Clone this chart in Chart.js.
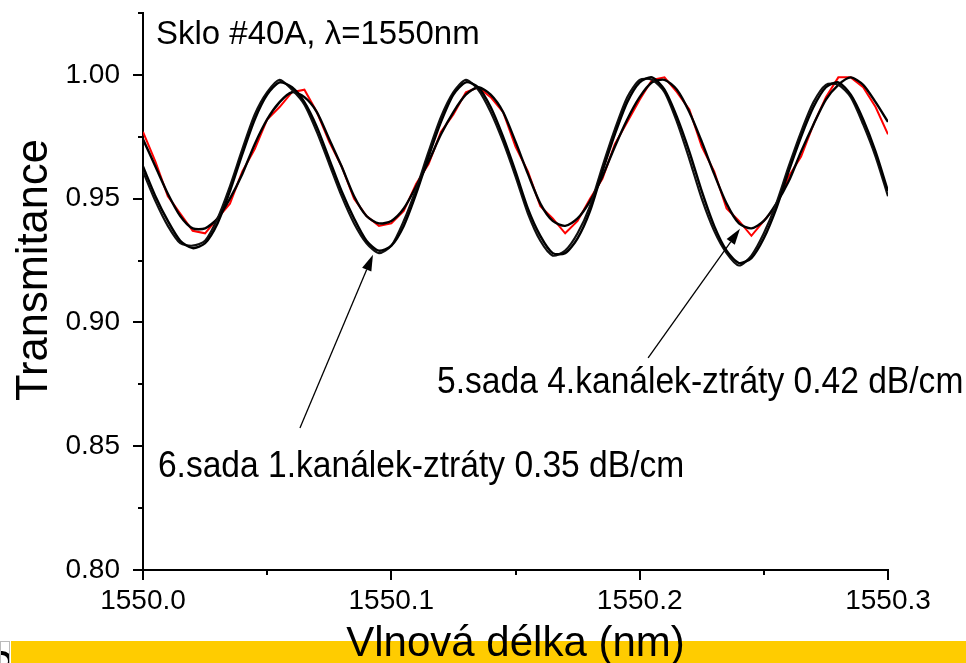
<!DOCTYPE html>
<html>
<head>
<meta charset="utf-8">
<script src="https://cdn.jsdelivr.net/npm/chart.js@4/dist/chart.umd.min.js"></script>
<style>
    html, body { margin: 0; padding: 0; background: #fff; }
    #wrap { position: relative; width: 966px; height: 663px; overflow: hidden; }
    #band { position: absolute; left: 11px; top: 641px; width: 955px; height: 22px; background: #ffcc00; }
    #corner { position: absolute; left: 0; top: 641px; width: 10px; height: 22px; border: 1px solid #bbb; border-bottom: none; box-sizing: border-box; background: #fff; overflow: hidden; }
    #corner div { position: absolute; left: -9px; top: 9px; width: 20px; height: 20px; border: 4px solid #000; border-radius: 50%; box-sizing: border-box; }
    canvas { position: absolute; left: 0; top: 0; }
</style>
</head>
<body>
<div id="wrap">
    <div id="band"></div>
    <div id="corner"><div></div></div>
    <canvas id="chart" width="966" height="663"></canvas>
</div>
<script>
// vlnová délka (nm)
const WAVELENGTH = [
    1550.000, 1550.005, 1550.010, 1550.015, 1550.020, 1550.025, 1550.030, 1550.035, 1550.040, 1550.045,
    1550.050, 1550.055, 1550.060, 1550.065, 1550.070, 1550.075, 1550.080, 1550.085, 1550.090, 1550.095,
    1550.100, 1550.105, 1550.110, 1550.115, 1550.120, 1550.125, 1550.130, 1550.135, 1550.140, 1550.145,
    1550.150, 1550.155, 1550.160, 1550.165, 1550.170, 1550.175, 1550.180, 1550.185, 1550.190, 1550.195,
    1550.200, 1550.205, 1550.210, 1550.215, 1550.220, 1550.225, 1550.230, 1550.235, 1550.240, 1550.245,
    1550.250, 1550.255, 1550.260, 1550.265, 1550.270, 1550.275, 1550.280, 1550.285, 1550.290, 1550.295,
    1550.300
];

// 6.sada 1.kanálek (dvě měření, černě)
const SADA6_A = [
    0.963, 0.951, 0.941, 0.933, 0.930, 0.932, 0.940, 0.953, 0.968, 0.982,
    0.992, 0.997, 0.995, 0.989, 0.979, 0.966, 0.953, 0.942, 0.933, 0.929,
    0.931, 0.939, 0.952, 0.967, 0.981, 0.992, 0.997, 0.995, 0.987, 0.975,
    0.961, 0.946, 0.935, 0.928, 0.928, 0.934, 0.945, 0.961, 0.976, 0.989,
    0.997, 0.999, 0.994, 0.983, 0.969, 0.953, 0.939, 0.929, 0.924, 0.926,
    0.934, 0.946, 0.961, 0.975, 0.987, 0.995, 0.997, 0.992, 0.982, 0.969,
    0.953
];
const SADA6_B = [
    0.961, 0.949, 0.939, 0.932, 0.931, 0.933, 0.942, 0.955, 0.970, 0.984,
    0.993, 0.998, 0.994, 0.988, 0.977, 0.964, 0.951, 0.940, 0.932, 0.928,
    0.931, 0.941, 0.954, 0.969, 0.983, 0.993, 0.998, 0.994, 0.985, 0.973,
    0.959, 0.944, 0.933, 0.927, 0.929, 0.936, 0.947, 0.963, 0.978, 0.991,
    0.998, 0.998, 0.993, 0.981, 0.966, 0.950, 0.937, 0.928, 0.923, 0.927,
    0.936, 0.948, 0.963, 0.977, 0.989, 0.996, 0.996, 0.991, 0.980, 0.967,
    0.951
];

// 5.sada 4.kanálek (černě hladká, červeně měření)
const SADA5_BLACK = [
    0.974, 0.963, 0.952, 0.943, 0.938, 0.938, 0.942, 0.950, 0.960, 0.972,
    0.982, 0.989, 0.993, 0.991, 0.985, 0.974, 0.963, 0.951, 0.943, 0.940,
    0.941, 0.946, 0.955, 0.965, 0.976, 0.985, 0.992, 0.995, 0.992, 0.985,
    0.973, 0.960, 0.948, 0.941, 0.939, 0.942, 0.949, 0.959, 0.971, 0.982,
    0.991, 0.997, 0.998, 0.994, 0.985, 0.973, 0.960, 0.948, 0.940, 0.938,
    0.941, 0.948, 0.957, 0.969, 0.980, 0.990, 0.996, 0.999, 0.996, 0.989,
    0.981
];
const SADA5_RED = [
    0.977, 0.965, 0.951, 0.944, 0.937, 0.936, 0.942, 0.948, 0.961, 0.970,
    0.982, 0.987, 0.993, 0.994, 0.985, 0.973, 0.963, 0.950, 0.943, 0.939,
    0.940, 0.945, 0.956, 0.964, 0.977, 0.984, 0.993, 0.995, 0.991, 0.985,
    0.971, 0.961, 0.947, 0.942, 0.936, 0.941, 0.950, 0.958, 0.972, 0.981,
    0.990, 0.998, 0.999, 0.993, 0.986, 0.971, 0.961, 0.946, 0.941, 0.935,
    0.941, 0.947, 0.959, 0.967, 0.980, 0.991, 0.999, 0.999, 0.995, 0.987,
    0.976
];

const X_MINOR = [1550.05, 1550.15, 1550.25];
const Y_MINOR = [0.825, 0.875, 0.925, 0.975, 1.025];

const FONT = "'Liberation Sans', Arial, sans-serif";

function pts(arr) {
    return WAVELENGTH.map((w, i) => ({ x: w, y: arr[i] }));
}

// popisky, šipky, vedlejší tiky
const overlay = {
    id: 'overlay',
    afterDraw(chart) {
        const { ctx, scales: { x, y } } = chart;
        ctx.save();
        ctx.strokeStyle = '#000';
        ctx.fillStyle = '#000';
        ctx.lineWidth = 2;

        ctx.beginPath();
        X_MINOR.forEach(v => {
            const px = Math.round(x.getPixelForValue(v));
            ctx.moveTo(px, y.bottom);
            ctx.lineTo(px, y.bottom + 5);
        });
        Y_MINOR.forEach(v => {
            const py = Math.round(y.getPixelForValue(v));
            ctx.moveTo(x.left, py);
            ctx.lineTo(x.left - 5, py);
        });
        ctx.stroke();

        function text(str, px, py, size, stretch) {
            ctx.save();
            ctx.translate(px, py);
            ctx.scale(1, stretch);
            ctx.font = size + 'px ' + FONT;
            ctx.textBaseline = 'alphabetic';
            ctx.fillText(str, 0, 0);
            ctx.restore();
        }

        function arrow(x0, y0, x1, y1) {
            const ax = x.getPixelForValue(x0), ay = y.getPixelForValue(y0);
            const bx = x.getPixelForValue(x1), by = y.getPixelForValue(y1);
            const ang = Math.atan2(by - ay, bx - ax);
            const len = 16, half = 5;
            ctx.lineWidth = 1.3;
            ctx.beginPath();
            ctx.moveTo(ax, ay);
            ctx.lineTo(bx - Math.cos(ang) * len, by - Math.sin(ang) * len);
            ctx.stroke();
            ctx.beginPath();
            ctx.moveTo(bx, by);
            ctx.lineTo(bx - Math.cos(ang) * len - Math.sin(ang) * half, by - Math.sin(ang) * len + Math.cos(ang) * half);
            ctx.lineTo(bx - Math.cos(ang) * len + Math.sin(ang) * half, by - Math.sin(ang) * len - Math.cos(ang) * half);
            ctx.closePath();
            ctx.fill();
        }

        arrow(1550.0632, 0.8574, 1550.0926, 0.9273);
        arrow(1550.2034, 0.8857, 1550.2404, 0.9378);

        ctx.textAlign = 'left';
        text('Sklo #40A, \u03bb=1550nm', x.getPixelForValue(1550.0052), y.getPixelForValue(1.0125), 33, 1.02);
        text('5.sada 4.kanálek-ztráty 0.42 dB/cm', x.getPixelForValue(1550.1184), y.getPixelForValue(0.8715), 33.6, 1.08);
        text('6.sada 1.kanálek-ztráty 0.35 dB/cm', x.getPixelForValue(1550.006), y.getPixelForValue(0.8376), 33.6, 1.08);

        // osy - popisky
        ctx.textAlign = 'center';
        text('Vlnová délka (nm)', (x.left + x.right) / 2, 656, 42, 1.03);
        ctx.save();
        ctx.translate(47, 270);
        ctx.rotate(-Math.PI / 2);
        ctx.font = '43.5px ' + FONT;
        ctx.textAlign = 'center';
        ctx.textBaseline = 'alphabetic';
        ctx.fillText('Transmitance', 0, 0);
        ctx.restore();

        ctx.restore();
    }
};

const lineStyle = { pointRadius: 0, fill: false, tension: 0.25 };

new Chart(document.getElementById('chart'), {
    type: 'line',
    data: {
        datasets: [
            Object.assign({ data: pts(SADA6_A), borderColor: '#000', borderWidth: 2.4 }, lineStyle),
            Object.assign({ data: pts(SADA6_B), borderColor: '#111', borderWidth: 2.2 }, lineStyle),
            Object.assign({ data: pts(SADA5_BLACK), borderColor: '#000', borderWidth: 2.4 }, lineStyle),
            { data: pts(SADA5_RED), borderColor: '#ff0000', borderWidth: 2, pointRadius: 0, fill: false, tension: 0 }
        ]
    },
    options: {
        responsive: false,
        animation: false,
        devicePixelRatio: 1,
        layout: { padding: { left: 0, right: 78, top: 13, bottom: 0 } },
        plugins: { legend: { display: false }, tooltip: { enabled: false } },
        scales: {
            x: {
                type: 'linear', min: 1550, max: 1550.3,
                border: { display: true, color: '#000', width: 2 },
                grid: { drawOnChartArea: false, drawTicks: true, tickLength: 10, color: '#000', lineWidth: 2 },
                ticks: { stepSize: 0.1, color: '#000', font: { family: FONT, size: 28 }, padding: 4, maxRotation: 0,
                         callback: v => v.toFixed(1) },
                afterFit(s) { s.height = 93; s.paddingLeft = 0; s.paddingRight = 0; }
            },
            y: {
                min: 0.8, max: 1.025,
                border: { display: true, color: '#000', width: 2 },
                grid: { drawOnChartArea: false, drawTicks: true, tickLength: 10, color: '#000', lineWidth: 2 },
                ticks: { stepSize: 0.05, includeBounds: false, color: '#000', font: { family: FONT, size: 28 }, padding: 13,
                         callback: v => v.toFixed(2) },
                afterFit(s) { s.width = 143; s.paddingTop = 0; s.paddingBottom = 0; }
            }
        }
    },
    plugins: [overlay]
});
</script>
</body>
</html>
